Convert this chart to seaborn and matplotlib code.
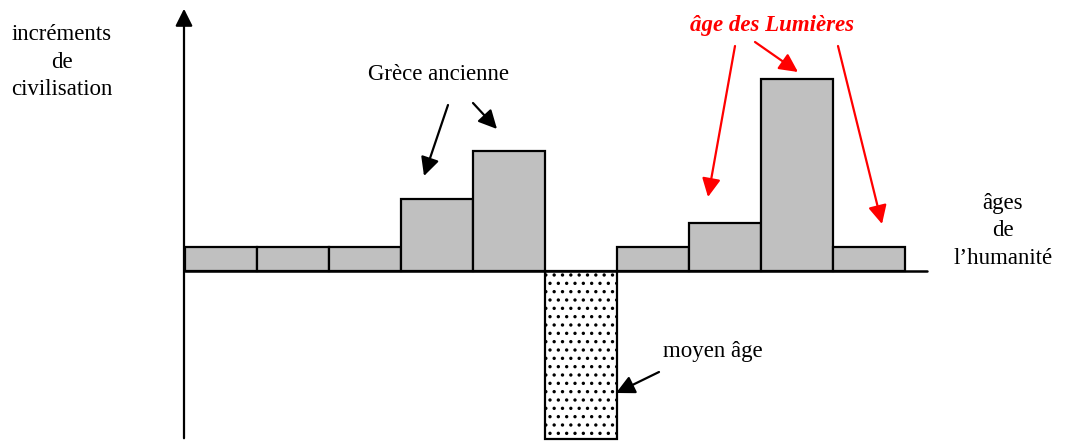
"""
Increments de civilisation par age de l'humanite (schema en barres).
"""

import matplotlib
matplotlib.use("Agg")
import matplotlib.pyplot as plt
import seaborn as sns

# data
ages = ["a1", "a2", "a3", "a4", "a5", "a6", "a7", "a8", "a9", "a10"]
increments = [1, 1, 1, 3, 5, -7, 1, 2, 8, 1]

W, H = 1065, 441
sns.set_theme(style="white")
plt.rcParams["font.family"] = ["Liberation Serif", "DejaVu Serif"]
plt.rcParams["text.color"] = "black"
plt.rcParams["hatch.linewidth"] = 1.2

fig = plt.figure(figsize=(W / 100, H / 100), dpi=100)
ax = fig.add_axes([0, 0, 1, 1])

sns.barplot(x=ages, y=increments, width=1.0, color="#c0c0c0",
            edgecolor="black", linewidth=1.6, saturation=1, ax=ax)

# middle ages bar: white with dots
for p, v in zip(ax.patches, increments):
    if v < 0:
        p.set_facecolor("white")
        p.set_hatch("..")

# pixel layout: bar width 72 px, 1 unit = 24 px, baseline at y=271, first bar at x=185
ax.set_xlim(-0.5 - 185 / 72, -0.5 + (W - 185) / 72)
ax.set_ylim(-(H - 271) / 24, 271 / 24)
ax.axis("off")


def fp(x, y):
    # image pixel (top-left origin) -> figure pixels
    return (x, H - y)


# axes drawn by hand
ax.annotate("", xy=fp(184, 6), xytext=fp(184, 441), xycoords="figure pixels",
            textcoords="figure pixels",
            arrowprops=dict(arrowstyle="-|>", color="black", lw=1.6, mutation_scale=26))
ax.plot([-0.5, -0.5 + (927 - 185) / 72], [0, 0], color="black", lw=1.8, zorder=5)

fs = 16.5
ax.annotate("incréments\nde\ncivilisation", xy=fp(62, 62), xycoords="figure pixels",
            ha="center", va="center", fontsize=fs, linespacing=1.38)
ax.annotate("âges\nde\nl’humanité", xy=fp(1003, 231), xycoords="figure pixels",
            ha="center", va="center", fontsize=fs, linespacing=1.38)
ax.annotate("Grèce ancienne", xy=fp(438, 75), xycoords="figure pixels",
            ha="center", va="center", fontsize=fs)
ax.annotate("moyen âge", xy=fp(713, 351), xycoords="figure pixels",
            ha="center", va="center", fontsize=fs)
ax.annotate("âge des Lumières", xy=fp(772, 25), xycoords="figure pixels",
            ha="center", va="center", fontsize=fs, color="red",
            fontweight="bold", fontstyle="italic")

black_arrows = [((448, 105), (424, 176)), ((473, 103), (497, 129)), ((659, 372), (616, 393))]
red_arrows = [((735, 46), (708, 197)), ((755, 42), (798, 72)), ((838, 46), (882, 224))]
for arrows, col in [(black_arrows, "black"), (red_arrows, "red")]:
    for (x0, y0), (x1, y1) in arrows:
        ax.annotate("", xy=fp(x1, y1), xytext=fp(x0, y0), xycoords="figure pixels",
                    textcoords="figure pixels",
                    arrowprops=dict(arrowstyle="-|>", color=col, lw=1.6,
                                    mutation_scale=28, shrinkA=0, shrinkB=0))

fig.savefig("out.png", dpi=100)
